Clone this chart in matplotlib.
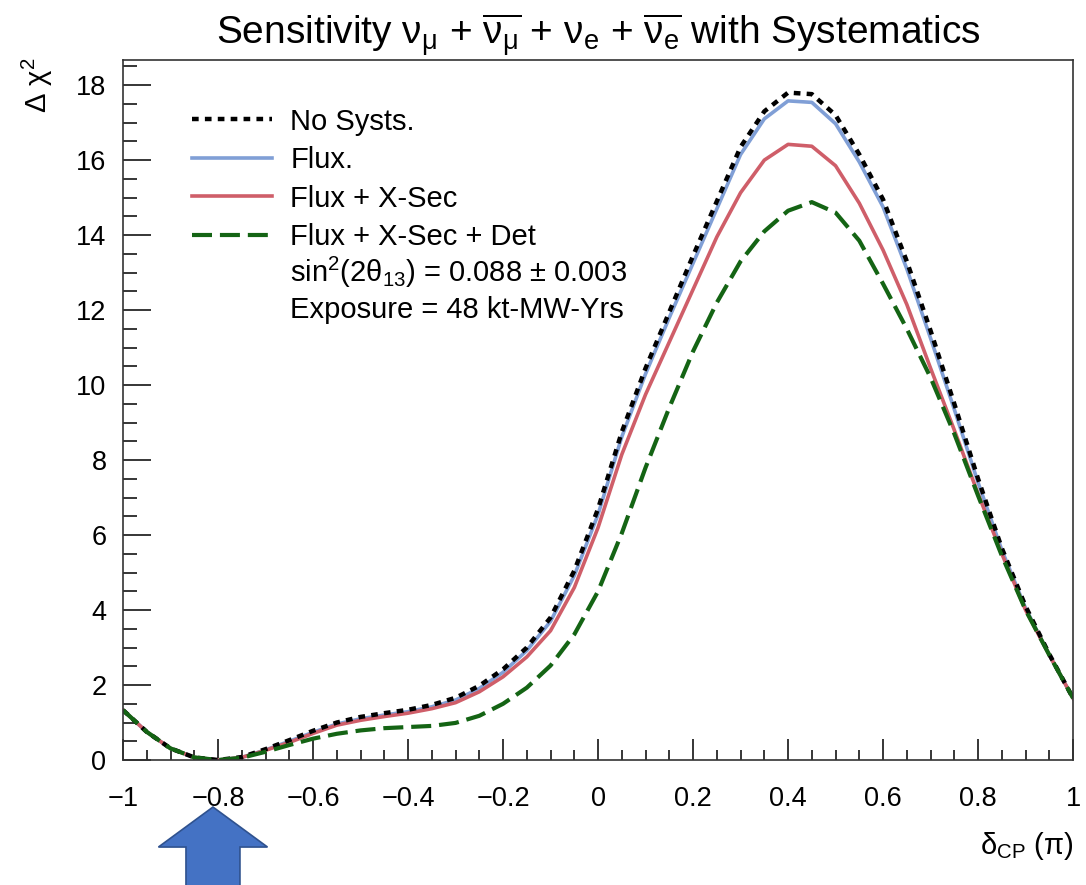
import numpy as np
import matplotlib
matplotlib.use("Agg")
import matplotlib.pyplot as plt
from matplotlib.lines import Line2D
from matplotlib.patches import FancyArrow
from matplotlib.ticker import MultipleLocator

plt.rcParams['font.family'] = ['Liberation Sans', 'DejaVu Sans']
plt.rcParams['mathtext.fontset'] = 'custom'
plt.rcParams['mathtext.rm'] = 'Liberation Sans'
plt.rcParams['mathtext.it'] = 'Liberation Sans:italic'
plt.rcParams['mathtext.bf'] = 'Liberation Sans:bold'

# delta_CP in units of pi
delta_cp = [-1.00, -0.95, -0.90, -0.85, -0.80, -0.75, -0.70, -0.65, -0.60, -0.55,
            -0.50, -0.45, -0.40, -0.35, -0.30, -0.25, -0.20, -0.15, -0.10, -0.05,
            0.00, 0.05, 0.10, 0.15, 0.20, 0.25, 0.30, 0.35, 0.40, 0.45,
            0.50, 0.55, 0.60, 0.65, 0.70, 0.75, 0.80, 0.85, 0.90, 0.95, 1.00]

no_systs = [1.33, 0.75, 0.31, 0.07, 0.00, 0.08, 0.29, 0.53, 0.78, 1.00,
            1.15, 1.25, 1.34, 1.47, 1.66, 1.98, 2.42, 3.00, 3.80, 5.05,
            6.70, 8.75, 10.45, 11.95, 13.45, 14.90, 16.35, 17.30, 17.80, 17.76,
            17.20, 16.15, 14.95, 13.30, 11.45, 9.50, 7.50, 5.65, 4.10, 2.82, 1.65]

flux = [1.33, 0.75, 0.31, 0.07, 0.00, 0.07, 0.27, 0.50, 0.74, 0.96,
        1.10, 1.20, 1.29, 1.42, 1.60, 1.91, 2.34, 2.92, 3.70, 4.92,
        6.55, 8.62, 10.30, 11.80, 13.25, 14.70, 16.15, 17.10, 17.58, 17.54,
        16.97, 15.95, 14.75, 13.10, 11.25, 9.35, 7.40, 5.60, 4.05, 2.80, 1.65]

flux_xsec = [1.33, 0.75, 0.31, 0.07, 0.00, 0.07, 0.26, 0.47, 0.71, 0.93,
             1.06, 1.16, 1.25, 1.37, 1.53, 1.82, 2.22, 2.75, 3.45, 4.60,
             6.20, 8.15, 9.75, 11.15, 12.55, 13.95, 15.13, 16.00, 16.42, 16.37,
             15.85, 14.85, 13.60, 12.15, 10.45, 8.80, 7.10, 5.50, 4.00, 2.80, 1.65]

flux_xsec_det = [1.33, 0.75, 0.31, 0.07, 0.00, 0.06, 0.22, 0.40, 0.57, 0.70,
                 0.79, 0.85, 0.88, 0.91, 0.99, 1.18, 1.50, 1.93, 2.52, 3.35,
                 4.50, 6.05, 7.80, 9.40, 10.90, 12.20, 13.30, 14.10, 14.65, 14.88,
                 14.60, 13.85, 12.70, 11.50, 10.20, 8.70, 7.05, 5.45, 4.00, 2.80, 1.65]

labels = ['No Systs.', 'Flux.', 'Flux + X-Sec', 'Flux + X-Sec + Det']
c_black = 'black'
c_blue = '#809fd6'
c_red = '#cf5e69'
c_green = '#146414'

fig = plt.figure(figsize=(10.86, 8.85), dpi=100)
ax = fig.add_axes([0.1133, 0.1412, 0.8748, 0.791])

l_blue, = ax.plot(delta_cp, flux, color=c_blue, lw=2.6)
l_red, = ax.plot(delta_cp, flux_xsec, color=c_red, lw=2.6)
l_black, = ax.plot(delta_cp, no_systs, color=c_black, lw=3.2, dashes=(1.5, 1.4))
l_green, = ax.plot(delta_cp, flux_xsec_det, color=c_green, lw=3, dashes=(4.8, 1.9))

ax.set_xlim(-1, 1)
ax.set_ylim(0, 18.67)
ax.xaxis.set_minor_locator(MultipleLocator(0.05))
ax.yaxis.set_major_locator(MultipleLocator(2))
ax.yaxis.set_minor_locator(MultipleLocator(0.5))
ax.set_xticks([-1, -0.8, -0.6, -0.4, -0.2, 0, 0.2, 0.4, 0.6, 0.8, 1])
ax.set_xticklabels(['\u22121', '\u22120.8', '\u22120.6', '\u22120.4', '\u22120.2',
                    '0', '0.2', '0.4', '0.6', '0.8', '1'])
ax.tick_params(which='both', direction='in', top=False, right=False, width=1.1,
               labelsize=19.5)
ax.tick_params(axis='x', which='major', length=15, pad=19)
ax.tick_params(axis='x', which='minor', length=7.5)
ax.tick_params(axis='y', which='major', length=20.5, pad=12)
ax.tick_params(axis='y', which='minor', length=10)
for s in ax.spines.values():
    s.set_linewidth(1.2)
    s.set_color('#333333')

ax.set_title(r'Sensitivity $\mathrm{\nu_{\mu}}$ + $\overline{\mathrm{\nu_{\mu}}}$ + '
             r'$\mathrm{\nu_{e}}$ + $\overline{\mathrm{\nu_{e}}}$ with Systematics',
             fontsize=28, pad=7)
ax.set_xlabel(r'$\mathrm{\delta_{CP}}$ ($\mathrm{\pi}$)', fontsize=21, loc='right')
ax.xaxis.set_label_coords(1.0, -0.1)
ax.set_ylabel(r'$\mathrm{\Delta\ \chi^{2}}$', fontsize=21, loc='top')
ax.yaxis.set_label_coords(-0.072, 1.004)

handles = [Line2D([], [], color=c_black, lw=3.2, dashes=(1.5, 1.4)),
           Line2D([], [], color=c_blue, lw=2.6),
           Line2D([], [], color=c_red, lw=2.6),
           Line2D([], [], color=c_green, lw=3, dashes=(4.8, 1.9))]
ax.legend(handles, labels, loc='upper left', bbox_to_anchor=(0.0726, 0.932),
          frameon=False, fontsize=21, handlelength=2.75, handletextpad=0.62,
          labelspacing=0.36, borderpad=0, borderaxespad=0)

ax.text(0.1758, 0.696, r'sin$^{2}$(2$\mathrm{\theta}_{13}$) = 0.088 $\pm$ 0.003',
        transform=ax.transAxes, fontsize=21, va='center', ha='left')
ax.text(0.1758, 0.643, 'Exposure = 48 kt-MW-Yrs',
        transform=ax.transAxes, fontsize=21, va='center', ha='left')

# blue pointer arrow below the axis
arrow = FancyArrow(0.1961, -0.01, 0, 0.0981, width=0.0497, head_width=0.1004,
                   head_length=0.0452, length_includes_head=True,
                   transform=fig.transFigure, facecolor='#4472C4',
                   edgecolor='#2F528F', lw=1.2, clip_on=False)
fig.patches.append(arrow)

fig.savefig('out.png', dpi=100, facecolor='white')
